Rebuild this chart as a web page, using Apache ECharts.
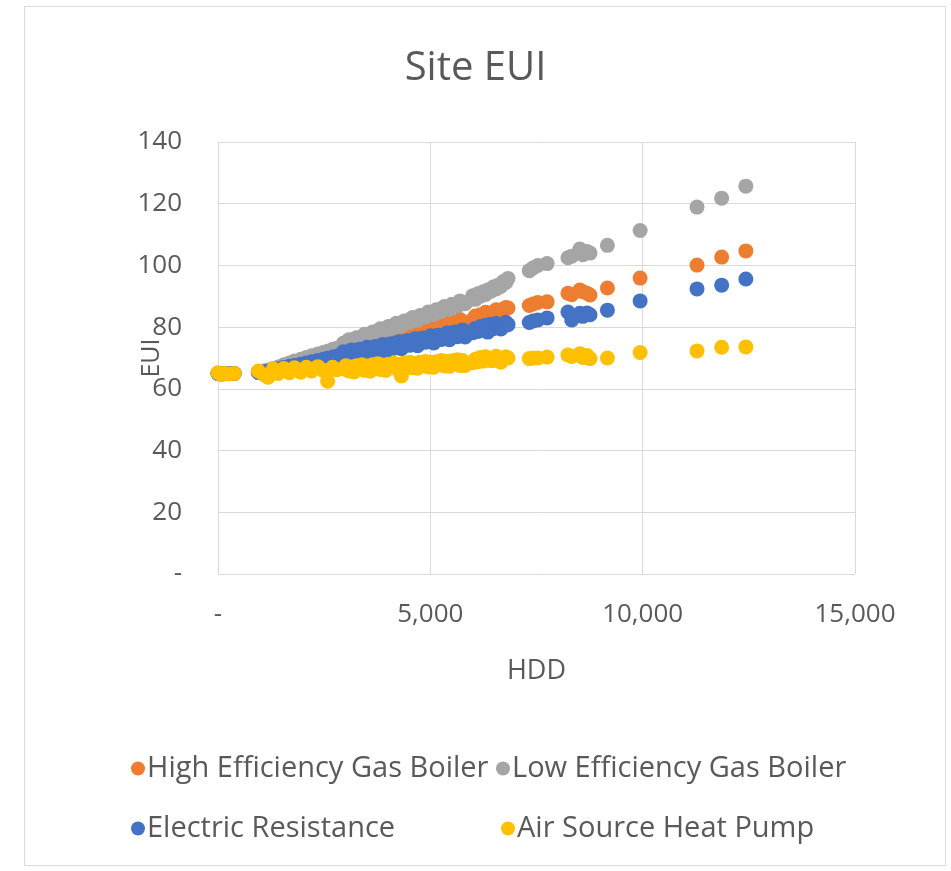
<!DOCTYPE html>
<html>
<head>
<meta charset="utf-8">
<title>Site EUI</title>
<script src="https://cdn.jsdelivr.net/npm/echarts@6/dist/echarts.min.js"></script>
<style>
  html, body { margin: 0; padding: 0; background: #fff; }
  #chart { width: 951px; height: 871px; }
</style>
</head>
<body>
<div id="chart"></div>
<script>
// heating degree days for each location (x)
var hdd = [0, 80, 150, 250, 380,
  950, 1080, 1180, 1300, 1420, 1550, 1680, 1800, 1950, 2080, 2200, 2350, 2480, 2580, 2700, 2800,
  2950, 3010, 3080, 3140, 3200, 3260, 3330, 3390, 3450, 3510, 3580, 3640, 3700, 3760, 3820, 3880,
  3950, 4010, 4080, 4140, 4200, 4260, 4320, 4380, 4450, 4510, 4580, 4640, 4700, 4760, 4830, 4890,
  4950, 5010, 5080, 5140, 5200, 5260, 5330, 5390, 5450, 5510, 5580, 5640, 5700, 5760, 5820,
  6000, 6060, 6120, 6180, 6250, 6300, 6350, 6420, 6480, 6550, 6600, 6660, 6720, 6780, 6830,
  7330, 7420, 7530, 7750, 8240, 8330, 8520, 8590, 8690, 8760, 9170, 9940, 11280, 11860, 12430];

// site EUI per system type, same order as hdd
var highEffGas = [65, 65, 65, 65, 65,
  65.4, 65.7, 65.9, 66.2, 66.6, 67.2, 67.6, 68, 68.5, 69, 69.4, 69.9, 70.3, 70.6, 71, 71.4,
  73.1, 72.2, 73.9, 73.1, 72.5, 74.3, 74.3, 73.4, 75.1, 74.3, 73.8, 75.6, 75.6, 74.7, 76.4, 75.6,
  75.0, 76.8, 76.8, 75.9, 77.6, 76.8, 76.2, 78.0, 78.0, 77.1, 78.8, 78.0, 77.4, 79.2, 79.3, 78.4,
  80.1, 79.3, 78.7, 80.5, 80.5, 79.6, 81.3, 80.5, 79.9, 81.7, 81.7, 80.8, 82.5, 81.7, 81.1,
  82.5, 83.6, 83.0, 84.0, 83.5, 84.8, 84.5, 83.9, 84.8, 85.6, 85.2, 84.6, 85.8, 86.4, 86.2,
  87, 87.5, 88, 88.2, 91, 90.5, 92, 91.5, 91, 90.4, 92.7, 95.9, 100.1, 102.7, 104.7];

var lowEffGas = [65, 65, 65, 65, 65,
  65.5, 65.8, 66.1, 66.6, 67.1, 67.8, 68.4, 69, 69.6, 70.2, 70.7, 71.3, 71.8, 72.2, 72.8, 73.2,
  74.8, 74.3, 75.9, 75.3, 75.0, 76.6, 76.6, 76.1, 77.7, 77.1, 76.8, 78.4, 78.4, 77.9, 79.5, 78.9,
  78.6, 80.2, 80.2, 79.7, 81.3, 80.7, 80.4, 82.0, 82.0, 81.5, 83.1, 82.5, 82.2, 83.8, 83.8, 83.3,
  84.9, 84.3, 84.0, 85.6, 85.6, 85.1, 86.7, 86.1, 85.8, 87.4, 87.4, 86.9, 88.5, 87.9, 87.6,
  90.2, 89.0, 90.8, 90.0, 91.5, 90.6, 92.0, 91.6, 93.0, 92.4, 93.6, 93.2, 94.8, 94.5, 95.8,
  98.3, 99.2, 100, 100.6, 102.5, 103, 105.3, 103.5, 104.5, 104, 106.5, 111.3, 118.9, 121.8, 125.7];

var elecRes = [65, 65, 65, 65, 65,
  65.3, 65.5, 65.7, 66, 66.4, 66.9, 67.3, 67.6, 68, 68.4, 68.8, 69.2, 69.6, 69.9, 70.3, 70.6,
  72.0, 70.4, 71.7, 72.6, 70.2, 72.5, 72.8, 71.3, 72.7, 73.5, 71.2, 73.4, 73.7, 72.3, 73.6, 74.4,
  72.1, 74.4, 74.6, 73.2, 74.5, 75.3, 73.0, 75.3, 75.6, 74.1, 75.5, 76.2, 74.0, 76.2, 76.5, 75.1,
  76.4, 77.2, 74.9, 77.2, 77.4, 76.0, 77.4, 78.1, 75.9, 78.1, 78.4, 76.9, 78.3, 79.1, 76.8,
  78.2, 79.6, 78.6, 80.2, 79.0, 80.6, 78.4, 80.9, 79.5, 81.2, 80.0, 79.4, 80.2, 81.6, 80.8,
  81.5, 82, 82.3, 83, 84.9, 82.3, 84.5, 83.5, 84.6, 84, 85.5, 88.5, 92.4, 93.6, 95.6];

var airSourceHP = [65.2, 64.6, 65, 64.8, 65,
  65.8, 64.6, 63.8, 66.4, 65.0, 66.6, 65.2, 66.8, 65.4, 67.0, 65.8, 67.2, 66.0, 62.5, 67.0, 66.2,
  66.5, 67.5, 65.8, 67.1, 65.5, 67.5, 66.8, 67.8, 66.0, 67.4, 65.7, 67.8, 67.0, 68.1, 66.3, 67.7,
  66.0, 68.0, 67.3, 68.3, 66.5, 67.9, 64.2, 68.3, 67.6, 68.6, 66.8, 68.2, 66.7, 68.6, 67.9, 68.9,
  67.1, 68.6, 67.0, 68.8, 68.1, 69.2, 67.4, 68.9, 67.3, 69.1, 68.4, 69.4, 67.6, 69.2, 67.6,
  68.5, 69.6, 68.8, 70.2, 69.0, 70.4, 70.0, 69.2, 69.2, 70.6, 69.5, 68.6, 69.8, 70.4, 70.0,
  69.8, 70, 70, 70.3, 71, 70.5, 71.4, 70.2, 70.8, 69.8, 70, 71.8, 72.3, 73.5, 73.6];

var seriesNames = ['High Efficiency Gas Boiler', 'Low Efficiency Gas Boiler', 'Electric Resistance', 'Air Source Heat Pump'];
var seriesValues = [highEffGas, lowEffGas, elecRes, airSourceHP];
var colors = ['#ED7D31', '#A5A5A5', '#4472C4', '#FFC000'];

var textColor = '#595959';
var fontFam = '"Open Sans", sans-serif';

function pairs(ys) {
  return hdd.map(function (x, i) { return [x, ys[i]]; });
}

var chart = echarts.init(document.getElementById('chart'));

var series = seriesNames.map(function (name, i) {
  return {
    name: name,
    type: 'scatter',
    symbol: 'circle',
    symbolSize: 15,
    itemStyle: { color: colors[i], opacity: 1 },
    data: pairs(seriesValues[i])
  };
});

// one legend per entry so the 2x2 layout matches
var legendPos = [
  { left: 131, top: 754 },
  { left: 496, top: 754 },
  { left: 131, top: 814 },
  { left: 501, top: 814 }
];
var legends = seriesNames.map(function (name, i) {
  return {
    data: [name],
    left: legendPos[i].left,
    top: legendPos[i].top,
    padding: 0,
    icon: 'circle',
    itemWidth: 14,
    itemHeight: 14,
    textStyle: { color: textColor, fontSize: 29, fontFamily: fontFam, padding: [0, 0, 0, -3] },
    selectedMode: false
  };
});

var option = {
  backgroundColor: '#fff',
  animation: false,
  title: {
    text: 'Site EUI',
    left: 'center',
    top: 44,
    textStyle: { color: textColor, fontSize: 40, fontWeight: 'normal', fontFamily: fontFam }
  },
  legend: legends,
  graphic: [{
    type: 'rect',
    shape: { x: 24.5, y: 6.5, width: 921, height: 859 },
    style: { fill: 'none', stroke: '#D9D9D9', lineWidth: 1 },
    silent: true
  }],
  grid: { left: 218, right: 96, top: 142, bottom: 297 },
  xAxis: {
    type: 'value',
    min: 0,
    max: 15000,
    interval: 5000,
    name: 'HDD',
    nameLocation: 'middle',
    nameGap: 84,
    nameMoveOverlap: false,
    nameTextStyle: { color: textColor, fontSize: 27, fontFamily: fontFam },
    axisLine: { show: false },
    axisTick: { show: false },
    axisLabel: {
      color: textColor, fontSize: 26, fontFamily: fontFam, margin: 28,
      formatter: function (v) { return v === 0 ? '-' : v.toLocaleString('en-US'); }
    },
    splitLine: { show: true, lineStyle: { color: '#D9D9D9', width: 1 } }
  },
  yAxis: {
    type: 'value',
    min: 0,
    max: 140,
    interval: 20,
    name: 'EUI',
    nameLocation: 'middle',
    nameGap: 54,
    nameMoveOverlap: false,
    nameTextStyle: { color: textColor, fontSize: 25, fontFamily: fontFam },
    axisLine: { show: false },
    axisTick: { show: false },
    axisLabel: {
      color: textColor, fontSize: 26, fontFamily: fontFam, margin: 36,
      formatter: function (v) { return v === 0 ? '-' : String(v); }
    },
    splitLine: { show: true, lineStyle: { color: '#D9D9D9', width: 1 } }
  },
  series: series
};

chart.setOption(option);
window.addEventListener('resize', function () { chart.resize(); });
</script>
</body>
</html>
